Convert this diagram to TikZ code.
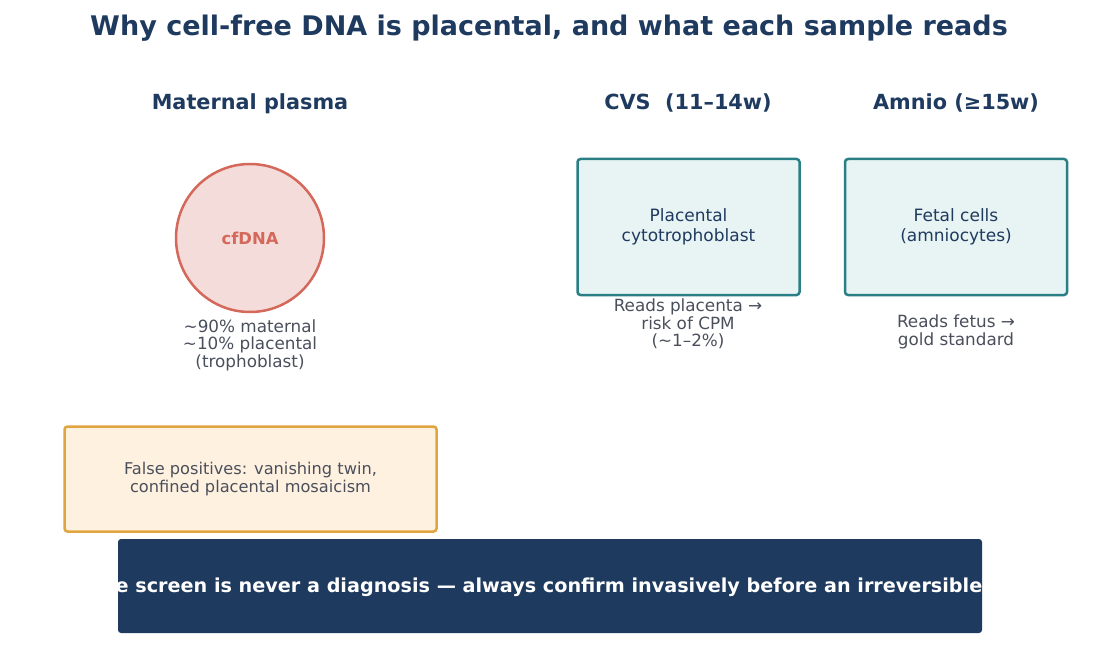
\documentclass[tikz,border=0pt]{standalone}
\usepackage{fontspec}
\setmainfont{DejaVu Sans}
\definecolor{navy}{HTML}{1F3A5F}
\definecolor{grayt}{HTML}{4A4F5C}
\definecolor{tealc}{HTML}{2A7F86}
\definecolor{tealfill}{HTML}{E8F4F4}
\definecolor{redc}{HTML}{D4685A}
\definecolor{pinkfill}{HTML}{F4DCDA}
\definecolor{yelc}{HTML}{E0A53F}
\definecolor{yelfill}{HTML}{FFF1E0}
\begin{document}
\begin{tikzpicture}[x=1pt,y=-1pt,
  ttl/.style={font=\bfseries\fontsize{27}{32}\selectfont, text=navy, inner sep=0},
  hdr/.style={font=\bfseries\fontsize{20.8}{25}\selectfont, text=navy, inner sep=0, anchor=base},
  note/.style={font=\fontsize{16.8}{17.5}\selectfont, text=grayt, align=center, inner sep=0},
  sample/.style={draw=tealc, fill=tealfill, line width=2.5pt, rounded corners=3pt,
    minimum width=222pt, minimum height=136pt, align=center, text=navy,
    font=\fontsize{17}{20}\selectfont},
  cf/.style={circle, draw=redc, fill=pinkfill, line width=2.5pt, minimum size=148pt,
    text=redc, font=\bfseries\fontsize{16.4}{20}\selectfont},
  warn/.style={draw=yelc, fill=yelfill, line width=2.5pt, rounded corners=3pt,
    minimum width=372pt, minimum height=105pt, align=center, text=grayt,
    font=\fontsize{16.2}{18}\selectfont},
  banner/.style={fill=navy, rounded corners=3pt, minimum width=864pt, minimum height=94pt, inner sep=0},
  bantext/.style={text=white, font=\bfseries\fontsize{19.2}{23}\selectfont, inner sep=0}
]
\useasboundingbox (0,0) rectangle (1099,671);
\node[ttl] (title) at (549,28.5) {Why cell-free DNA is placental, and what each sample reads};
\node[hdr] (h1) at (250,109.5) {Maternal plasma};
\node[hdr] (h2) at (688,109.5) {CVS\ \ (11–14w)};
\node[hdr] (h3) at (956,109.5) {Amnio (≥15w)};
\node[cf] (cfdna) at (250,238) {cfDNA};
\node[note] (n1) at (250,345) {\textasciitilde90\% maternal\\\textasciitilde10\% placental\\(trophoblast)};
\node[sample] (cvs) at (688.5,227) {Placental\\cytotrophoblast};
\node[note] (n2) at (688,324) {Reads placenta →\\risk of CPM\\(\textasciitilde1–2\%)};
\node[sample] (amn) at (956,227) {Fetal cells\\(amniocytes)};
\node[note] (n3) at (956,332) {Reads fetus →\\gold standard};
\node[warn] (fp) at (250.5,479) {False positives: vanishing twin,\\confined placental mosaicism};
\node[banner] (ban) at (550,586) {};
\begin{scope}
  \clip[rounded corners=3pt] (ban.south west) rectangle (ban.north east);
  \node[bantext] (bantxt) at (549,587) {e screen is never a diagnosis — always confirm invasively before an irreversible};
\end{scope}
\end{tikzpicture}
\end{document}
